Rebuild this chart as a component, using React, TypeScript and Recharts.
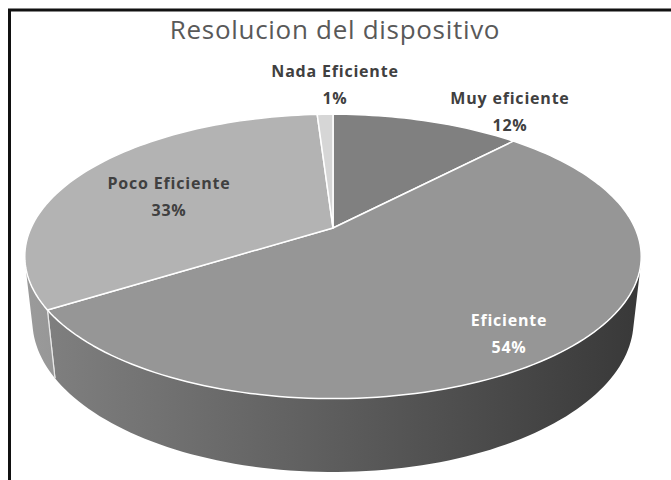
import React from "react";
import { PieChart, Pie, Cell } from "recharts";

const categories = ["Muy eficiente", "Eficiente", "Poco Eficiente", "Nada Eficiente"];
const shares = [12, 54, 33, 1];
const sliceColors = ["#808080", "#969696", "#b3b3b3", "#d6d6d6"];

const data = categories.map((name, i) => ({ name, value: shares[i] }));

// tilt / perspective of the fake 3d plate (Excel look)
const SIN_T = 0.452;
const COS_T = 0.892;
const DIST = 4.46;
const DEPTH = 0.24;

// where Excel left the data labels, relative to the pie centre
const labelSpots: Record<string, { dx: number; dy: number; color: string }> = {
  "Muy eficiente": { dx: 177, dy: -124, color: "#404040" },
  Eficiente: { dx: 176, dy: 98, color: "#ffffff" },
  "Poco Eficiente": { dx: -164, dy: -39, color: "#404040" },
  "Nada Eficiente": { dx: 2, dy: -151, color: "#404040" },
};

const shade = (hex: string, k: number) => {
  const n = parseInt(hex.slice(1), 16);
  const c = (v: number) => Math.round(Math.min(255, v * k)).toString(16).padStart(2, "0");
  return "#" + c((n >> 16) & 255) + c((n >> 8) & 255) + c(n & 255);
};

function Slice3D(props: any) {
  const { cx, cy, outerRadius, startAngle, endAngle, fill, index } = props;
  const F = outerRadius * DIST;
  const pt = (deg: number, y: number) => {
    const t = (deg * Math.PI) / 180;
    const X = Math.cos(t);
    const Z = Math.sin(t);
    const yc = y * COS_T + Z * SIN_T;
    const zc = DIST + Z * COS_T - y * SIN_T;
    return [cx + (F * X) / zc, cy - (F * yc) / zc];
  };
  const arc = (from: number, to: number, y: number) => {
    const steps = Math.max(2, Math.ceil(Math.abs(to - from) / 1.5));
    const out: string[] = [];
    for (let i = 0; i <= steps; i++) {
      const p = pt(from + ((to - from) * i) / steps, y);
      out.push(p[0].toFixed(2) + "," + p[1].toFixed(2));
    }
    return out;
  };
  const a0 = Math.min(startAngle, endAngle);
  const a1 = Math.max(startAngle, endAngle);
  const top = "M" + cx + "," + cy + " L" + arc(a1, a0, 0).join(" L") + " Z";

  // visible band of the outer wall
  const lim = (Math.asin(1 / (DIST * COS_T)) * 180) / Math.PI;
  const walls: string[] = [];
  const edges: number[] = [];
  for (let k = -2; k <= 1; k++) {
    const bandLo = -180 + lim + 360 * k;
    const bandHi = -lim + 360 * k;
    const lo = Math.max(a0, bandLo);
    const hi = Math.min(a1, bandHi);
    if (hi > lo) {
      const upper = arc(hi, lo, 0);
      const lower = arc(lo, hi, -DEPTH);
      walls.push("M" + upper.join(" L") + " L" + lower.join(" L") + " Z");
      if (lo === a0 && a0 > bandLo) edges.push(a0);
      if (hi === a1 && a1 < bandHi) edges.push(a1);
    }
  }
  const gid = "wallShade" + index;
  return (
    <g>
      <defs>
        <linearGradient id={gid} gradientUnits="userSpaceOnUse" x1={cx - outerRadius} y1={0} x2={cx + outerRadius} y2={0}>
          <stop offset="0%" stopColor={shade(fill, 0.86)} />
          <stop offset="100%" stopColor={shade(fill, 0.38)} />
        </linearGradient>
      </defs>
      {walls.map((d, i) => (
        <path key={"w" + i} d={d} fill={`url(#${gid})`} stroke="none" />
      ))}
      {edges.map((a, i) => {
        const p = pt(a, 0);
        const q = pt(a, -DEPTH);
        return <line key={"e" + i} x1={p[0]} y1={p[1]} x2={q[0]} y2={q[1]} stroke="#e8e8e8" strokeWidth={1.2} />;
      })}
      <path d={top} fill={fill} stroke="#ffffff" strokeWidth={1.5} strokeLinejoin="round" />
    </g>
  );
}

function renderLabel(props: any) {
  const { cx, cy, name, percent } = props;
  const spot = labelSpots[name];
  if (!spot) return null;
  const x = cx + spot.dx;
  const y = cy + spot.dy;
  const font = { fontFamily: "'Open Sans', sans-serif", fontSize: 16, fontWeight: 700, letterSpacing: 0.8 };
  return (
    <g>
      <text x={x} y={y} textAnchor="middle" fill={spot.color} style={font}>
        {name}
      </text>
      <text x={x} y={y + 27} textAnchor="middle" fill={spot.color} style={font}>
        {Math.round(percent * 100) + "%"}
      </text>
    </g>
  );
}

export default function App() {
  return (
    <div style={{ position: "absolute", left: 0, top: 0, width: 671, height: 480, overflow: "hidden", background: "#fff" }}>
      <svg width={671} height={480} style={{ position: "absolute", left: 0, top: 0 }}>
        <path d="M9.5,480 L9.5,10 L671,10" stroke="#111111" strokeWidth={3} fill="none" />
        <text
          x={335}
          y={39}
          textAnchor="middle"
          fill="#595959"
          style={{ fontFamily: "'Open Sans', sans-serif", fontSize: 26, letterSpacing: 0.7 }}
        >
          Resolucion del dispositivo
        </text>
      </svg>
      <div style={{ position: "absolute", left: 0, top: 0 }}>
        <PieChart width={671} height={480} margin={{ top: 0, right: 0, bottom: 0, left: 0 }}>
          <Pie
            data={data}
            dataKey="value"
            nameKey="name"
            cx={333}
            cy={228}
            outerRadius={302}
            startAngle={90}
            endAngle={-270}
            stroke="none"
            labelLine={false}
            label={renderLabel}
            shape={Slice3D}
            isAnimationActive={false}
          >
            {data.map((d, i) => (
              <Cell key={d.name} fill={sliceColors[i]} />
            ))}
          </Pie>
        </PieChart>
      </div>
    </div>
  );
}
